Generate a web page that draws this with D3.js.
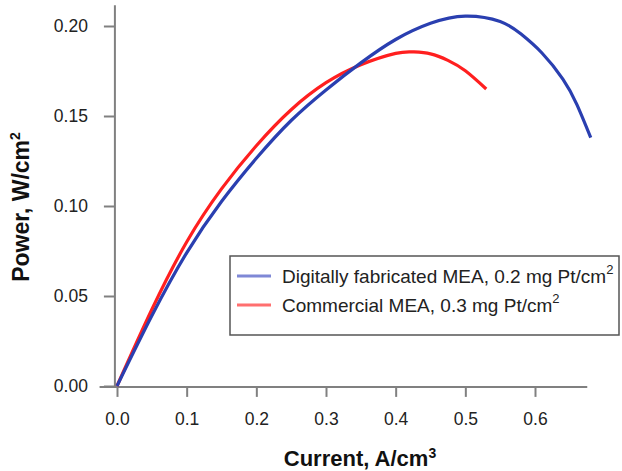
<!DOCTYPE html>
<html>
<head>
<meta charset="utf-8">
<title>Power vs current</title>
<script src="https://cdn.jsdelivr.net/npm/d3@7"></script>
<style>
  body { margin: 0; background: #fff; }
  text { font-family: "Liberation Sans", Arial, sans-serif; }
</style>
</head>
<body>
<div id="chart"></div>
<script>
// data
var blueCurrent = [0, 0.05, 0.10, 0.15, 0.20, 0.25, 0.30, 0.35, 0.40, 0.45, 0.50, 0.55, 0.58, 0.61, 0.64, 0.66, 0.68];
var bluePower   = [0, 0.039, 0.074, 0.1025, 0.1265, 0.1475, 0.1645, 0.1795, 0.1925, 0.2015, 0.2055, 0.2025, 0.1955, 0.185, 0.1705, 0.1565, 0.138];
var redCurrent  = [0, 0.05, 0.10, 0.15, 0.20, 0.25, 0.30, 0.35, 0.40, 0.425, 0.45, 0.475, 0.50, 0.53];
var redPower    = [0, 0.0425, 0.080, 0.1095, 0.1335, 0.1535, 0.1685, 0.1785, 0.1848, 0.1856, 0.1845, 0.1809, 0.1751, 0.165];
var xTicks = [0, 0.1, 0.2, 0.3, 0.4, 0.5, 0.6];
var yTicks = [0, 0.05, 0.10, 0.15, 0.20];
var legendLabels = ["Digitally fabricated MEA, 0.2 mg Pt/cm", "Commercial MEA, 0.3 mg Pt/cm"];

var width = 622, height = 471;

var svg = d3.select("#chart").append("svg")
	.attr("width", width)
	.attr("height", height);

var x = d3.scaleLinear().domain([0, 0.6]).range([117, 535]);
var y = d3.scaleLinear().domain([0, 0.2]).range([386, 26]);

var axisColor = "#808080";
var axisX = x(-0.003), axisY = y(-0.0005);

// axis lines
svg.append("line")
	.attr("x1", axisX).attr("x2", axisX)
	.attr("y1", y(0.2115)).attr("y2", axisY)
	.attr("stroke", axisColor).attr("stroke-width", 2);
svg.append("line")
	.attr("x1", x(-0.025)).attr("x2", x(0.675))
	.attr("y1", axisY).attr("y2", axisY)
	.attr("stroke", axisColor).attr("stroke-width", 2);

// y ticks
var yAxis = d3.axisLeft(y).tickValues(yTicks).tickSize(11).tickPadding(16)
	.tickFormat(d3.format(".2f"));
var gy = svg.append("g").attr("transform", "translate(" + axisX + ",0)").call(yAxis);
gy.select(".domain").remove();
gy.selectAll(".tick line").attr("stroke", axisColor).attr("stroke-width", 2);
gy.selectAll(".tick text").attr("font-size", 17.5).attr("fill", "#222")
	.attr("font-family", "Liberation Sans, Arial, sans-serif");

// x ticks
var xAxis = d3.axisBottom(x).tickValues(xTicks).tickSize(10).tickPadding(16)
	.tickFormat(d3.format(".1f"));
var gx = svg.append("g").attr("transform", "translate(0," + axisY + ")").call(xAxis);
gx.select(".domain").remove();
gx.selectAll(".tick line").attr("stroke", axisColor).attr("stroke-width", 2);
gx.selectAll(".tick text").attr("font-size", 17.5).attr("fill", "#222")
	.attr("font-family", "Liberation Sans, Arial, sans-serif");

// axis titles
var xt = svg.append("text")
	.attr("x", 360).attr("y", 466)
	.attr("text-anchor", "middle")
	.attr("font-size", 22).attr("font-weight", "bold").attr("fill", "#111")
	.text("Current, A/cm");
xt.append("tspan").attr("font-size", 14).attr("dy", -8).text("3");

var yt = svg.append("text")
	.attr("transform", "translate(29,207) rotate(-90)")
	.attr("text-anchor", "middle")
	.attr("font-size", 23).attr("font-weight", "bold").attr("fill", "#111")
	.text("Power, W/cm");
yt.append("tspan").attr("font-size", 14).attr("dy", -9).text("2");

// curves
var line = d3.line()
	.x(function(d) { return x(d[0]); })
	.y(function(d) { return y(d[1]); })
	.curve(d3.curveNatural);

var redData = redCurrent.map(function(c, i) { return [c, redPower[i]]; });
var blueData = blueCurrent.map(function(c, i) { return [c, bluePower[i]]; });

svg.append("path").datum(redData)
	.attr("d", line)
	.attr("fill", "none").attr("stroke", "#ff1f1f").attr("stroke-width", 3.2);
svg.append("path").datum(blueData)
	.attr("d", line)
	.attr("fill", "none").attr("stroke", "#2a3fb0").attr("stroke-width", 3.2);

// legend
var lg = svg.append("g");
lg.append("rect")
	.attr("x", 230).attr("y", 256).attr("width", 389).attr("height", 79)
	.attr("fill", "#fff").attr("stroke", "#555").attr("stroke-width", 1.5);

var legendColors = ["#7f88d6", "#ff6f6f"];
legendLabels.forEach(function(lbl, i) {
	var yy = 276 + i * 29;
	lg.append("line")
		.attr("x1", 237).attr("x2", 271)
		.attr("y1", yy).attr("y2", yy)
		.attr("stroke", legendColors[i]).attr("stroke-width", 3);
	var t = lg.append("text")
		.attr("x", 282).attr("y", yy + 7)
		.attr("font-size", 19).attr("fill", "#222")
		.text(lbl);
	t.append("tspan").attr("font-size", 13).attr("dy", -9).text("2");
});
</script>
</body>
</html>
